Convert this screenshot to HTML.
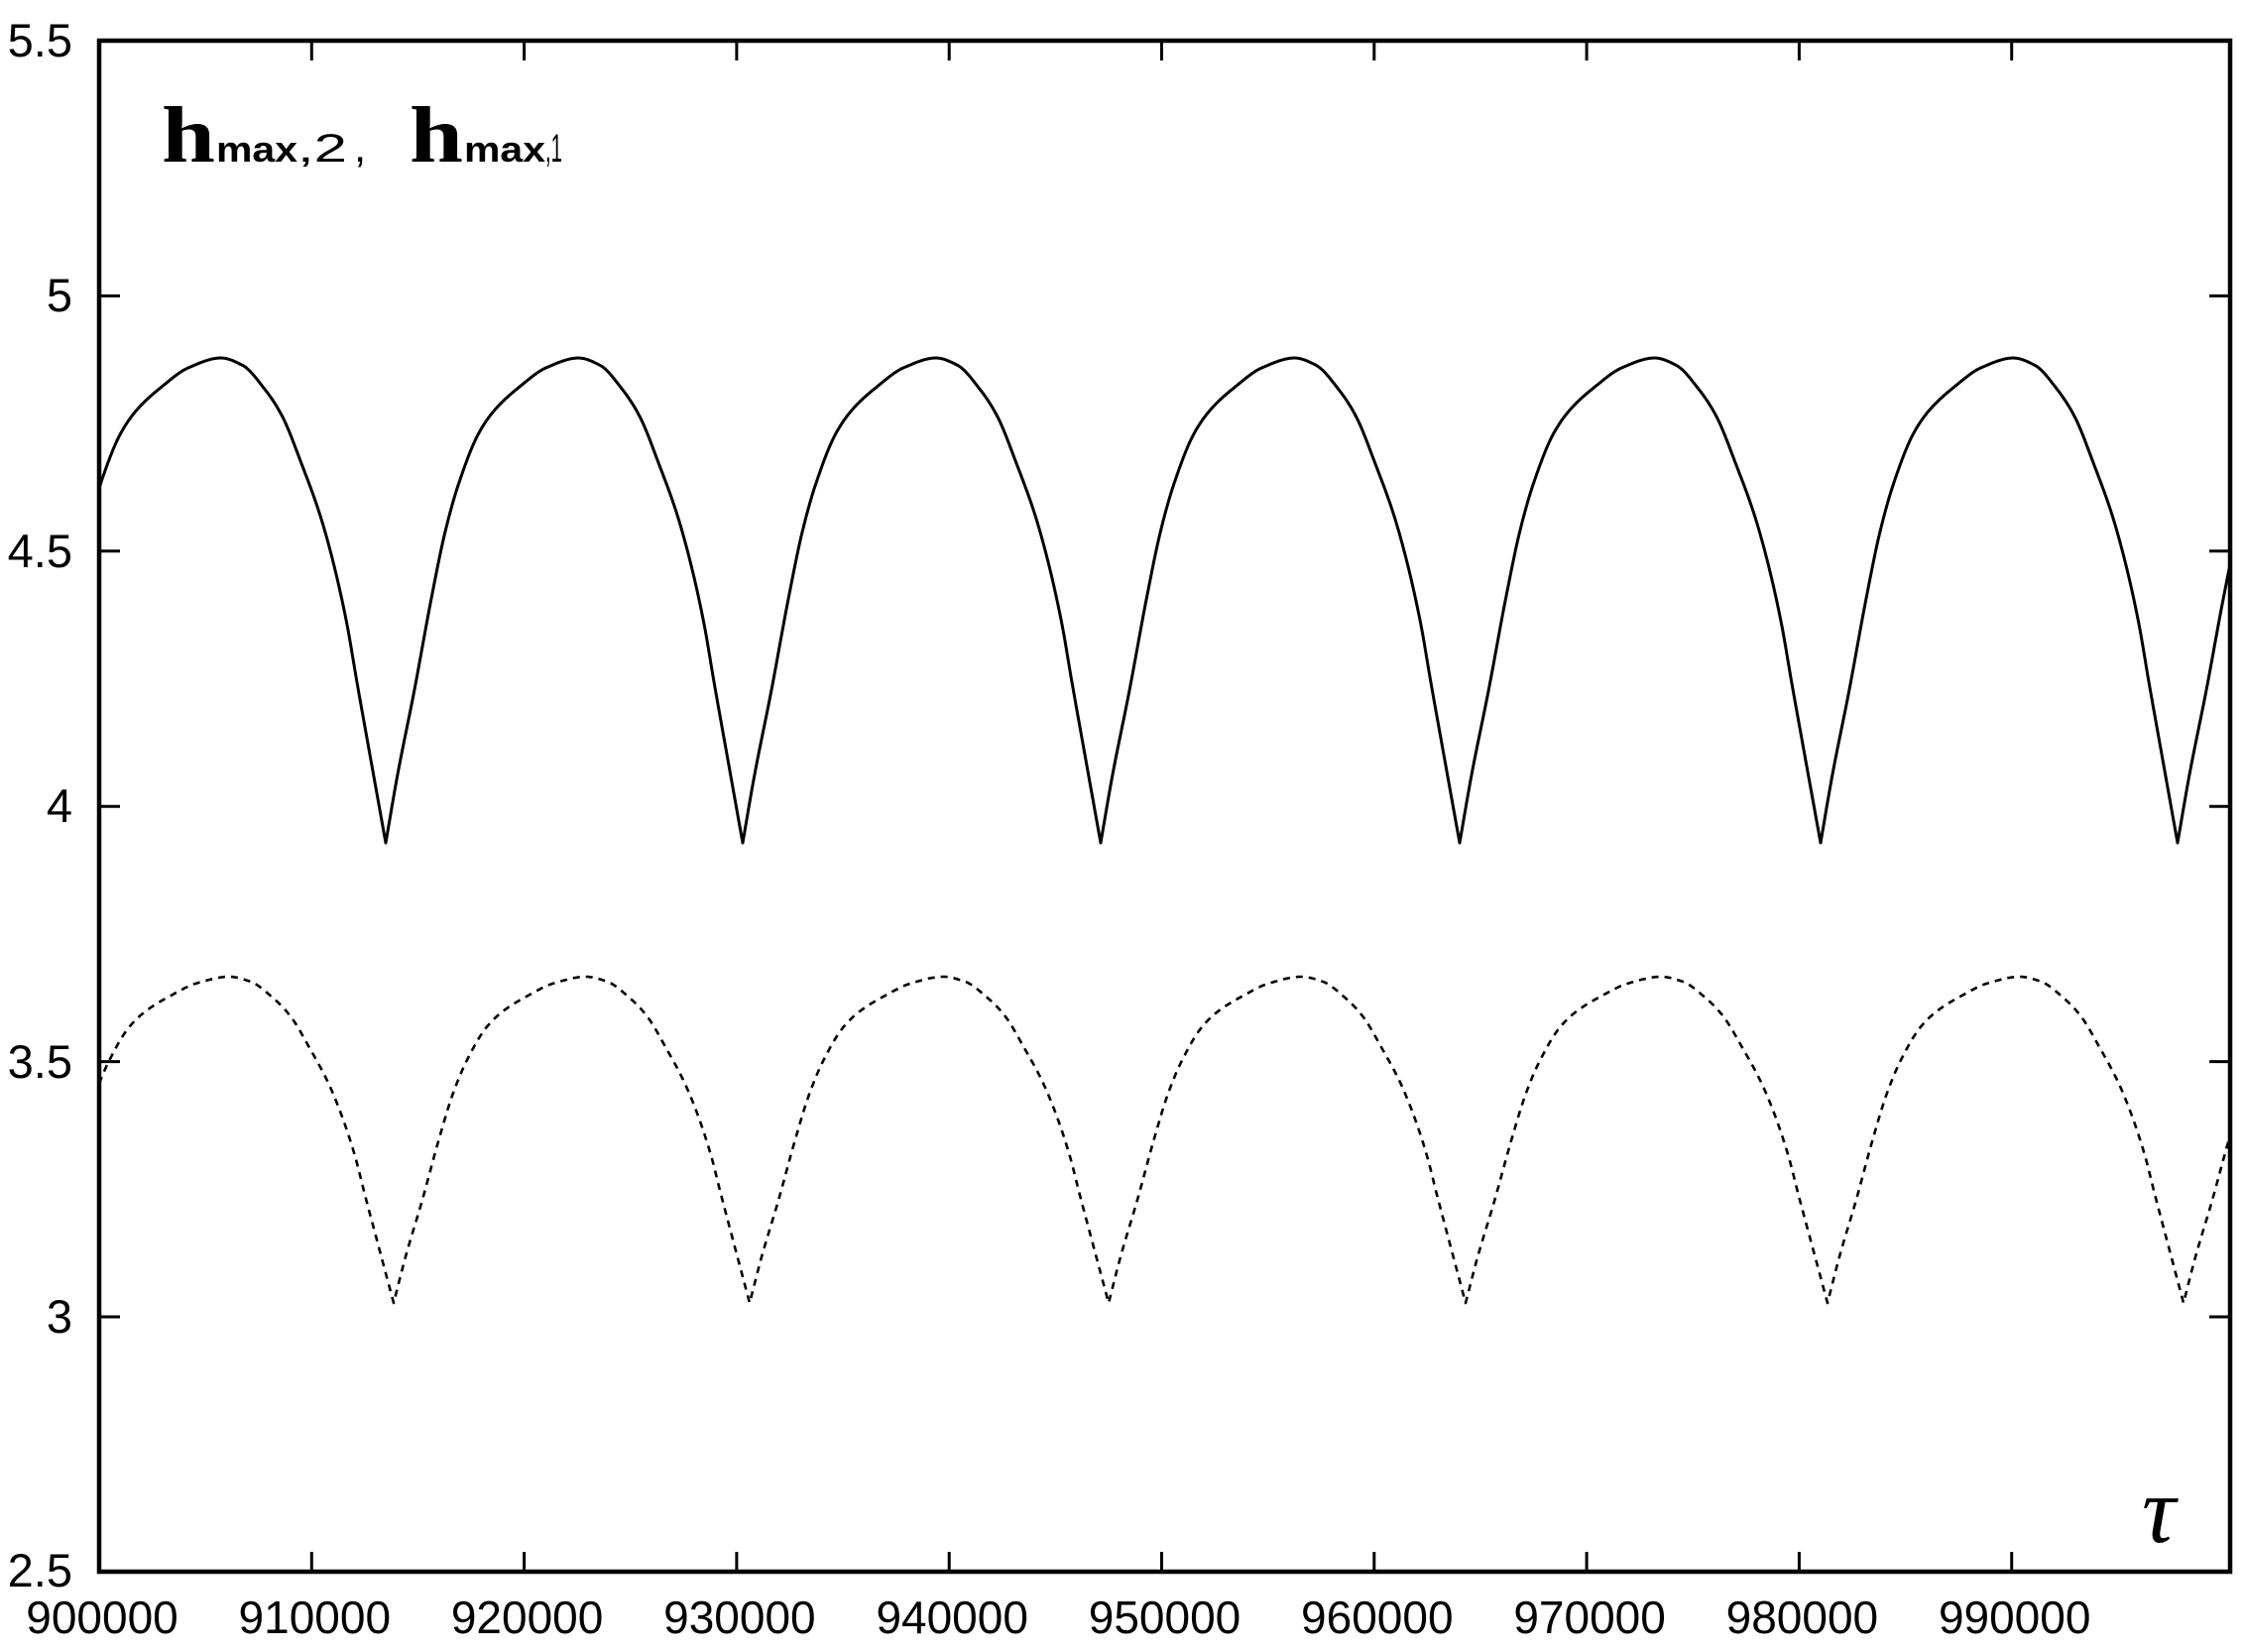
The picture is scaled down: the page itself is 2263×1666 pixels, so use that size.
<!DOCTYPE html>
<html><head><meta charset="utf-8"><style>
html,body{margin:0;padding:0;background:#fff;}
svg{display:block;}
</style></head><body>
<svg id="s" width="2263" height="1666" viewBox="0 0 2263 1666" xmlns="http://www.w3.org/2000/svg">
<rect width="2263" height="1666" fill="#fff"/>
<g id="curves"></g>
<rect x="100" y="41" width="2149" height="1544" fill="none" stroke="#000" stroke-width="4.5"/>
<g id="ticks" stroke="#000" stroke-width="3"></g>
<g font-family="Liberation Sans, Arial, sans-serif" font-size="47" fill="#000" text-anchor="end">
<text x="73" y="57">5.5</text>
<text x="73" y="314">5</text>
<text x="73" y="572">4.5</text>
<text x="73" y="829">4</text>
<text x="73" y="1087">3.5</text>
<text x="73" y="1344">3</text>
<text x="73" y="1600">2.5</text>
</g>
<g font-family="Liberation Sans, Arial, sans-serif" font-size="46" fill="#000" text-anchor="middle" id="xl"></g>
<text x="163" y="163" font-family="Liberation Serif, serif" font-weight="bold" font-size="80" textLength="54" lengthAdjust="spacingAndGlyphs">h</text>
<text x="218" y="163" font-family="Liberation Sans, sans-serif" font-weight="bold" font-size="36" textLength="82" lengthAdjust="spacingAndGlyphs">max</text>
<text x="300" y="163" font-family="Liberation Sans, sans-serif" font-size="40" textLength="50" lengthAdjust="spacingAndGlyphs">,2</text>
<text x="357" y="163" font-family="Liberation Sans, sans-serif" font-size="44">,</text>
<text x="413" y="163" font-family="Liberation Serif, serif" font-weight="bold" font-size="80" textLength="54" lengthAdjust="spacingAndGlyphs">h</text>
<text x="468" y="163" font-family="Liberation Sans, sans-serif" font-weight="bold" font-size="36" textLength="82" lengthAdjust="spacingAndGlyphs">max</text>
<text x="550" y="163" font-family="Liberation Sans, sans-serif" font-size="40" textLength="17" lengthAdjust="spacingAndGlyphs">,1</text>
<text x="2160" y="1555" font-family="Liberation Serif, serif" font-style="italic" font-size="95">τ</text>
</svg>
<script>
(function(){
var NS="http://www.w3.org/2000/svg";
var tk=document.getElementById('ticks'), xl=document.getElementById('xl');
function line(x1,y1,x2,y2){var l=document.createElementNS(NS,'line');l.setAttribute('x1',x1);l.setAttribute('y1',y1);l.setAttribute('x2',x2);l.setAttribute('y2',y2);tk.appendChild(l);}
for(var i=0;i<10;i++){var x=100+i*214.3;
 if(i>0){line(x,1585,x,1565);line(x,41,x,61);}
 var t=document.createElementNS(NS,'text');t.setAttribute('x',x+3);t.setAttribute('y',1647);t.textContent=(900000+i*10000);xl.appendChild(t);}
for(var j=1;j<6;j++){var y=41+j*257.4;line(100,y,121,y);line(2249,y,2228,y);}
var U=[0,.033,.08,.128,.166,.204,.26,.308,.374,.45,.54,.60,.664,.711,.768,.815,.853,.891,.92,.957,1];
var F=[0,.14,.314,.505,.64,.74,.844,.895,.94,.98,1,.985,.934,.88,.776,.68,.58,.454,.33,.177,0];
var n=U.length, D=[], M=[];
for(var i=0;i<n-1;i++)D[i]=(F[i+1]-F[i])/(U[i+1]-U[i]);
M[0]=D[0];M[n-1]=D[n-2];
for(var i=1;i<n-1;i++){ if(D[i-1]*D[i]<=0)M[i]=0; else M[i]=2/(1/D[i-1]+1/D[i]); }
function f(u){u=u-Math.floor(u);
 for(var k=0;k<n-1;k++){if(u<=U[k+1]){var h=U[k+1]-U[k],t=(u-U[k])/h,t2=t*t,t3=t2*t;
  return (2*t3-3*t2+1)*F[k]+(t3-2*t2+t)*h*M[k]+(-2*t3+3*t2)*F[k+1]+(t3-t2)*h*M[k+1];}}
 return 0;}
function build(ms,ymin,ypk,dash,w){
 var d='';var P=(ms[ms.length-1]-ms[0])/(ms.length-1);
 for(var x=100;x<=2249;x+=1){
  var k=0;while(k<ms.length-1&&x>ms[k+1])k++;
  var a,b;
  if(x<ms[0]){b=ms[0];a=b-P;}else if(x>ms[ms.length-1]){a=ms[ms.length-1];b=a+P;}else{a=ms[k];b=ms[k+1];}
  var u=(x-a)/(b-a);
  var y=ymin-(ymin-ypk)*f(u);
  d+=(x==100?'M':'L')+x+' '+y.toFixed(1);
 }
 var p=document.createElementNS(NS,'path');p.setAttribute('d',d);p.setAttribute('fill','none');p.setAttribute('stroke','#000');p.setAttribute('stroke-width',w);p.setAttribute('stroke-linejoin','round');
 if(dash)p.setAttribute('stroke-dasharray',dash);
 document.getElementById('curves').appendChild(p);
}
build([389,749,1110,1472,1836,2196],850,361,null,3);
build([397,756,1118,1478,1843,2202],1314,985,'7 6',2.6);
})();
</script>
</body></html>
